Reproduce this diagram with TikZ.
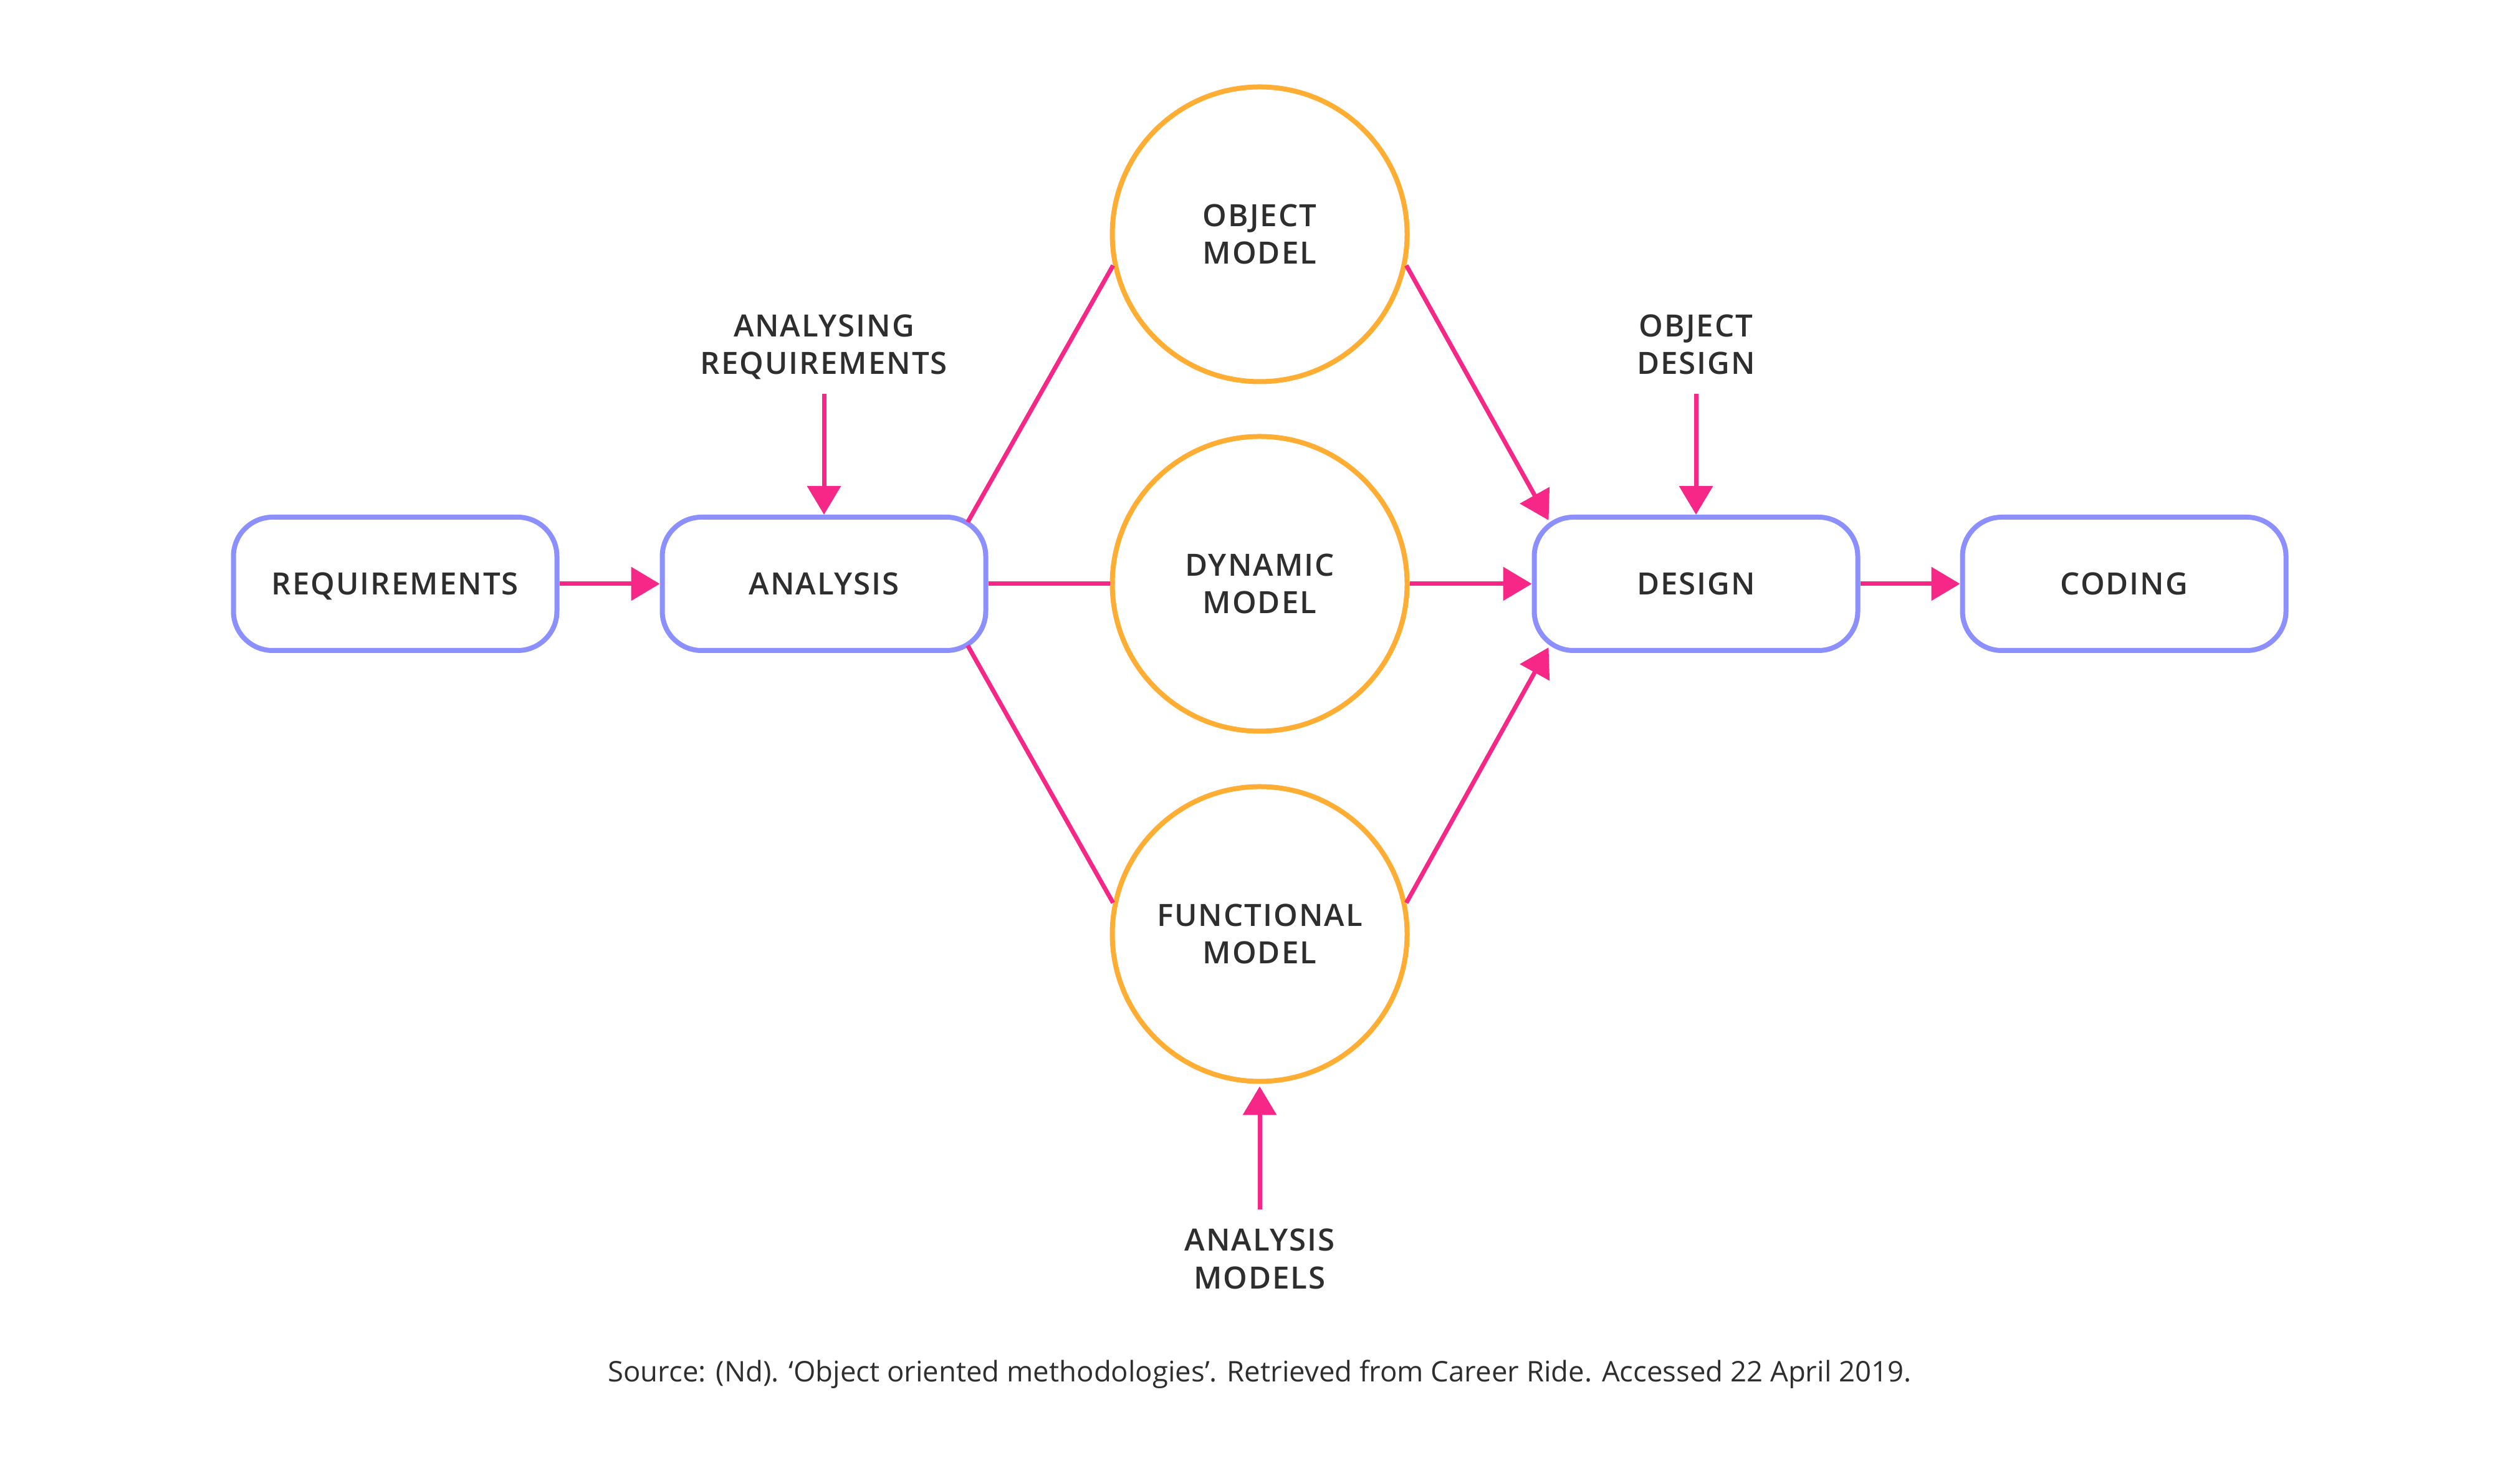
\documentclass[tikz,border=0pt]{standalone}
\usepackage{fontspec}
\setmainfont{Open Sans}
\IfFontExistsTF{Open Sans Semibold}
  {\newfontfamily\semibold{Open Sans Semibold}[LetterSpace=4]}
  {\IfFontExistsTF{OpenSans-SemiBold}
    {\newfontfamily\semibold{OpenSans-SemiBold}[LetterSpace=4]}
    {\newfontfamily\semibold{Open Sans}[UprightFont=*-Bold,UprightFeatures={LetterSpace=2.6}]}}
\usepackage{tikz}
\usetikzlibrary{positioning,arrows.meta,calc}
\definecolor{boxblue}{HTML}{8C8FFF}
\definecolor{modelorange}{HTML}{FFAD33}
\definecolor{flowpink}{HTML}{F72788}
\definecolor{inkgray}{HTML}{2E2E2E}

\begin{document}
\begin{tikzpicture}[
    txt/.style={text=inkgray,font=\semibold\fontsize{14}{17.2}\selectfont,text height=10pt,text depth=0pt},
    twolines/.style={align=center,text height=27.2pt},
    phase/.style={draw=boxblue,line width=0.08cm,rounded corners=0.63cm,minimum width=5.19cm,minimum height=2.14cm,fill=white,txt},
    model/.style={circle,draw=modelorange,line width=0.08cm,minimum size=4.73cm,inner sep=0pt,fill=white,txt,twolines},
    note/.style={txt,twolines,inner xsep=0pt,inner ysep=0.31cm,outer sep=0pt},
    flow/.style={draw=flowpink,line width=0.07cm},
    arr/.style={flow,-{Triangle[length=0.46cm,width=0.53cm]}}
  ]
    \useasboundingbox (0,0) rectangle (40.43,23.64);
    \node[phase] (req) at (6.34,14.27) {REQUIREMENTS};
    \node[phase] (ana) at (13.22,14.27) {ANALYSIS};
    \node[phase] (des) at (27.21,14.27) {DESIGN};
    \node[phase] (cod) at (34.08,14.27) {CODING};
    \node[model] (obj) at (20.21,19.88) {OBJECT\\MODEL};
    \node[model] (dyn) at (20.21,14.27) {DYNAMIC\\MODEL};
    \node[model] (fun) at (20.21,8.65) {FUNCTIONAL\\MODEL};
    \node[note,above=1.94cm of ana] (anareq) {ANALYSING\\REQUIREMENTS};
    \node[note,above=1.94cm of des] (objdes) {OBJECT\\DESIGN};
    \node[note,below=2.02cm of fun] (anamod) {ANALYSIS\\MODELS};
    \node[font=\fontsize{12.95}{15}\selectfont,text=inkgray,anchor=base] (src) at (20.21,1.46)
      {Source: (Nd). ‘Object oriented methodologies’. Retrieved from Career Ride. Accessed 22 April 2019.};
    \draw[arr] (req) -- (ana);
    \draw[flow] (ana) -- (dyn);
    \draw[arr] (dyn) -- (des);
    \draw[arr] (des) -- (cod);
    \draw[flow] ($(ana.north east)+(-0.33,-0.12)$) -- (obj.192);
    \draw[flow] ($(ana.south east)+(-0.33,0.12)$) -- (fun.168);
    \draw[arr] (obj.348) -- ($(des.north west)+(0.27,-0.09)$);
    \draw[arr] (fun.12) -- ($(des.south west)+(0.27,0.09)$);
    \draw[arr] (anareq) -- (ana);
    \draw[arr] (objdes) -- (des);
    \draw[arr,shorten >=0.04cm] (anamod) -- (fun);
  \end{tikzpicture}
\end{document}
